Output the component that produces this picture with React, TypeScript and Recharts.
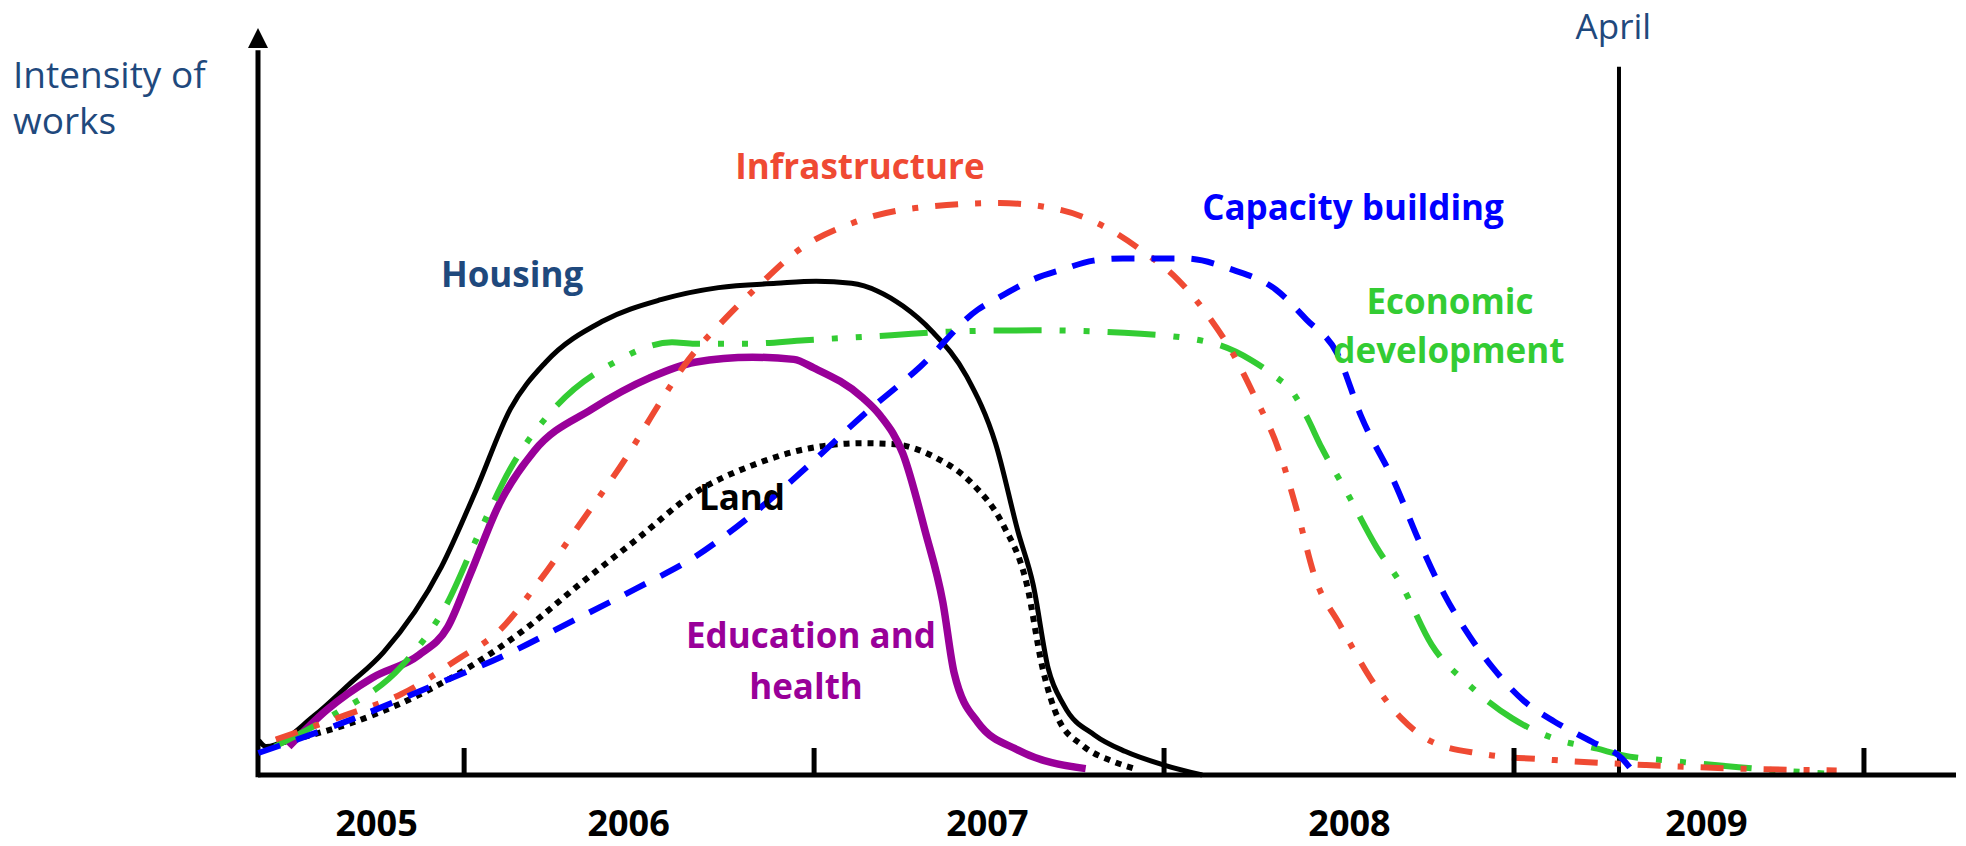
import React from 'react';
import { LineChart, Line, XAxis, YAxis, ReferenceLine, ReferenceDot } from 'recharts';

// ---- data: [year, intensity] ----
const housing: number[][] = [
  [2005.413, 4.9], [2005.434, 4.0], [2005.573, 8.4], [2005.670, 12.7], [2005.770, 17.3], [2005.935, 29.3],
  [2006.035, 40.2], [2006.132, 51.5], [2006.233, 58.1], [2006.397, 63.9], [2006.562, 66.9], [2006.727, 68.6],
  [2006.892, 69.2], [2007.006, 69.5], [2007.107, 69.2], [2007.182, 68.1], [2007.254, 66.0], [2007.336, 62.5],
  [2007.436, 56.1], [2007.519, 46.6], [2007.583, 34.2], [2007.626, 26.8], [2007.669, 15.0], [2007.714, 9.8],
  [2007.802, 5.6], [2007.890, 3.3], [2008.000, 1.4], [2008.109, 0],
];
const educationHealth: number[][] = [
  [2005.499, 4.0], [2005.606, 9.1], [2005.738, 13.7], [2005.871, 16.9], [2005.953, 20.8], [2006.017, 28.2],
  [2006.100, 38.1], [2006.200, 45.6], [2006.365, 51.5], [2006.530, 55.9], [2006.659, 58.1], [2006.824, 58.8],
  [2006.942, 58.5], [2006.999, 57.3], [2007.139, 53.1], [2007.189, 50.6], [2007.254, 45.2], [2007.318, 34.2],
  [2007.368, 24.3], [2007.400, 14.4], [2007.468, 7.4], [2007.583, 3.5], [2007.776, 0.9],
];
const land: number[][] = [
  [2005.474, 4.5], [2005.738, 8.4], [2005.985, 14.3], [2006.168, 20.3], [2006.329, 26.8], [2006.494, 33.2],
  [2006.659, 39.7], [2006.824, 43.6], [2006.988, 46.0], [2007.139, 46.7], [2007.221, 46.6], [2007.350, 44.6],
  [2007.450, 41.1], [2007.539, 35.3], [2007.608, 26.8], [2007.653, 15.0], [2007.697, 8.0], [2007.766, 4.2],
  [2007.855, 1.9], [2007.916, 0.9],
];
const infrastructure: number[][] = [
  [2005.462, 5.0], [2005.659, 8.4], [2005.821, 11.4], [2005.985, 16.4], [2006.100, 20.3], [2006.215, 27.3],
  [2006.329, 35.2], [2006.462, 44.6], [2006.562, 52.6], [2006.627, 57.5], [2006.759, 64.9], [2006.842, 68.9],
  [2006.956, 73.9], [2007.110, 77.7], [2007.289, 79.8], [2007.531, 80.5], [2007.707, 79.5], [2007.847, 76.7],
  [2007.934, 73.9], [2008.040, 69.7], [2008.128, 64.5], [2008.197, 59.3], [2008.256, 53.6], [2008.328, 45.7],
  [2008.380, 37.2], [2008.432, 27.7], [2008.503, 21.1], [2008.590, 13.6], [2008.678, 8.0], [2008.765, 4.7],
  [2008.905, 3.0], [2009.116, 2.1], [2009.378, 1.4], [2009.642, 0.9], [2009.922, 0.65],
];
const capacityBuilding: number[][] = [
  [2005.412, 3.1], [2005.656, 7.4], [2005.903, 12.4], [2006.118, 16.9], [2006.315, 21.8], [2006.494, 26.3],
  [2006.659, 30.7], [2006.824, 36.7], [2006.974, 43.1], [2007.139, 50.6], [2007.304, 57.5], [2007.468, 65.5],
  [2007.531, 67.3], [2007.633, 69.9], [2007.707, 71.1], [2007.798, 72.4], [2007.882, 72.7], [2008.057, 72.7],
  [2008.197, 71.1], [2008.320, 68.3], [2008.407, 64.1], [2008.495, 59.3], [2008.564, 50.4], [2008.661, 40.9],
  [2008.729, 32.9], [2008.801, 25.4], [2008.871, 19.7], [2008.941, 15.0], [2009.029, 10.4], [2009.116, 7.5],
  [2009.222, 4.7], [2009.309, 2.3], [2009.344, 0.2],
];
const economicDevelopment: number[][] = [
  [2005.459, 4.0], [2005.624, 8.4], [2005.821, 15.3], [2005.953, 24.3], [2006.035, 33.2], [2006.132, 43.1],
  [2006.265, 52.0], [2006.430, 58.1], [2006.594, 60.9], [2006.659, 60.7], [2006.809, 60.7], [2006.974, 61.2],
  [2007.221, 61.9], [2007.386, 62.4], [2007.633, 62.6], [2007.934, 62.1], [2008.145, 60.7], [2008.249, 58.4],
  [2008.320, 56.0], [2008.363, 54.2], [2008.407, 50.5], [2008.450, 46.1], [2008.520, 40.0], [2008.608, 32.0],
  [2008.678, 26.8], [2008.765, 18.3], [2008.871, 12.7], [2008.994, 8.0], [2009.116, 5.1], [2009.238, 3.7],
  [2009.309, 2.8], [2009.467, 1.9], [2009.642, 1.1], [2009.886, 0.2],
];

// ---- axis / ticks ----
const xDomain = [2005.411, 2010.263];
const yDomain = [0, 105];
const yearBoundaries = [2006, 2007, 2008, 2009, 2010];
const yearLabels = ['2005', '2006', '2007', '2008', '2009'];
const yearLabelPos = [2005.75, 2006.47, 2007.495, 2008.53, 2009.55];
const aprilMarker = 2009.3;

const FONT = "'Open Sans', sans-serif";
const DARK_BLUE = '#1F497D';

type Ann = { text: string; x: number; y: number; color: string; bold: boolean; size: number; anchor: 'center' | 'right' };
const annotations: Ann[] = [
  { text: 'Housing', x: 2006.137, y: 70.4, color: DARK_BLUE, bold: true, size: 35, anchor: 'center' },
  { text: 'Infrastructure', x: 2007.131, y: 85.7, color: '#EF4A33', bold: true, size: 35, anchor: 'center' },
  { text: 'Capacity building', x: 2008.54, y: 79.8, color: '#0000FF', bold: true, size: 35, anchor: 'center' },
  { text: 'Economic', x: 2008.817, y: 66.7, color: '#33CC33', bold: true, size: 35, anchor: 'center' },
  { text: 'development', x: 2008.814, y: 59.7, color: '#33CC33', bold: true, size: 35, anchor: 'center' },
  { text: 'Land', x: 2006.794, y: 39.1, color: '#000000', bold: true, size: 35, anchor: 'center' },
  { text: 'Education and', x: 2006.991, y: 19.6, color: '#990099', bold: true, size: 35, anchor: 'center' },
  { text: 'health', x: 2006.977, y: 12.4, color: '#990099', bold: true, size: 35, anchor: 'center' },
  { text: 'April', x: 2009.284, y: 105.35, color: DARK_BLUE, bold: false, size: 35, anchor: 'center' },
  { text: 'Intensity of', x: 2004.711, y: 98.6, color: DARK_BLUE, bold: false, size: 37, anchor: 'right' },
  { text: 'works', x: 2004.711, y: 92.05, color: DARK_BLUE, bold: false, size: 37, anchor: 'right' },
];

const toData = (pts: number[][]) => pts.map(([x, y]) => ({ x, y }));

const series = [
  { name: 'Housing', pts: housing, color: '#000000', width: 5, dash: undefined as string | undefined },
  { name: 'Land', pts: land, color: '#000000', width: 6, dash: '6 6' },
  { name: 'Education and health', pts: educationHealth, color: '#990099', width: 7.5, dash: undefined },
  { name: 'Economic development', pts: economicDevelopment, color: '#33CC33', width: 6, dash: '48 18 6 18 6 18' },
  { name: 'Infrastructure', pts: infrastructure, color: '#EF4A33', width: 6, dash: '23 17 6 17' },
  { name: 'Capacity building', pts: capacityBuilding, color: '#0000FF', width: 6, dash: '23 17' },
];

const allTicks = [...yearBoundaries, ...yearLabelPos].sort((a, b) => a - b);

const renderTick = (props: any) => {
  const { x, y, payload } = props;
  const v = payload.value;
  if (yearBoundaries.some((b) => Math.abs(b - v) < 1e-6)) {
    return <line x1={x} x2={x} y1={y} y2={y - 27} stroke="#000" strokeWidth={5} />;
  }
  const idx = yearLabelPos.findIndex((p) => Math.abs(p - v) < 1e-6);
  return (
    <text x={x} y={y + 61} textAnchor="middle" fontFamily={FONT} fontWeight={700} fontSize={36} fill="#000">
      {idx >= 0 ? yearLabels[idx] : ''}
    </text>
  );
};

const arrowHead = (p: any) => {
  const { cx, cy } = p;
  return <polygon points={`${cx},${cy - 1} ${cx - 10},${cy + 19} ${cx + 10},${cy + 19}`} fill="#000" />;
};

export default function App() {
  return (
    <div style={{ margin: '-8px', width: 1966, height: 846, background: '#fff' }}>
      <LineChart width={1966} height={846} margin={{ top: 29, right: 10, bottom: 0, left: 258 }}>
        <XAxis
          type="number"
          dataKey="x"
          domain={xDomain}
          ticks={allTicks}
          interval={0}
          tickLine={false}
          tickSize={0}
          tickMargin={0}
          tick={renderTick}
          axisLine={{ stroke: '#000', strokeWidth: 5 }}
          height={71}
        />
        <YAxis type="number" dataKey="y" domain={yDomain} hide />
        <ReferenceLine
          segment={[{ x: xDomain[0], y: -0.3 }, { x: xDomain[0], y: 102 }]}
          stroke="#000"
          strokeWidth={5}
          ifOverflow="visible"
        />
        <ReferenceDot x={xDomain[0]} y={yDomain[1]} r={1} ifOverflow="visible" shape={arrowHead} />
        <ReferenceLine
          segment={[{ x: aprilMarker, y: 0 }, { x: aprilMarker, y: 99.7 }]}
          stroke="#000"
          strokeWidth={4}
          ifOverflow="visible"
        />
        {series.map((s) => (
          <Line
            key={s.name}
            name={s.name}
            data={toData(s.pts)}
            dataKey="y"
            type="monotone"
            stroke={s.color}
            strokeWidth={s.width}
            strokeDasharray={s.dash}
            dot={false}
            activeDot={false}
            isAnimationActive={false}
          />
        ))}
        {annotations.map((a) => (
          <ReferenceDot
            key={a.text}
            x={a.x}
            y={a.y}
            r={0}
            fill="none"
            stroke="none"
            ifOverflow="visible"
            label={{
              value: a.text,
              position: a.anchor,
              offset: 0,
              fill: a.color,
              fontSize: a.size,
              fontWeight: a.bold ? 700 : 400,
              fontFamily: FONT,
            }}
          />
        ))}
      </LineChart>
    </div>
  );
}
